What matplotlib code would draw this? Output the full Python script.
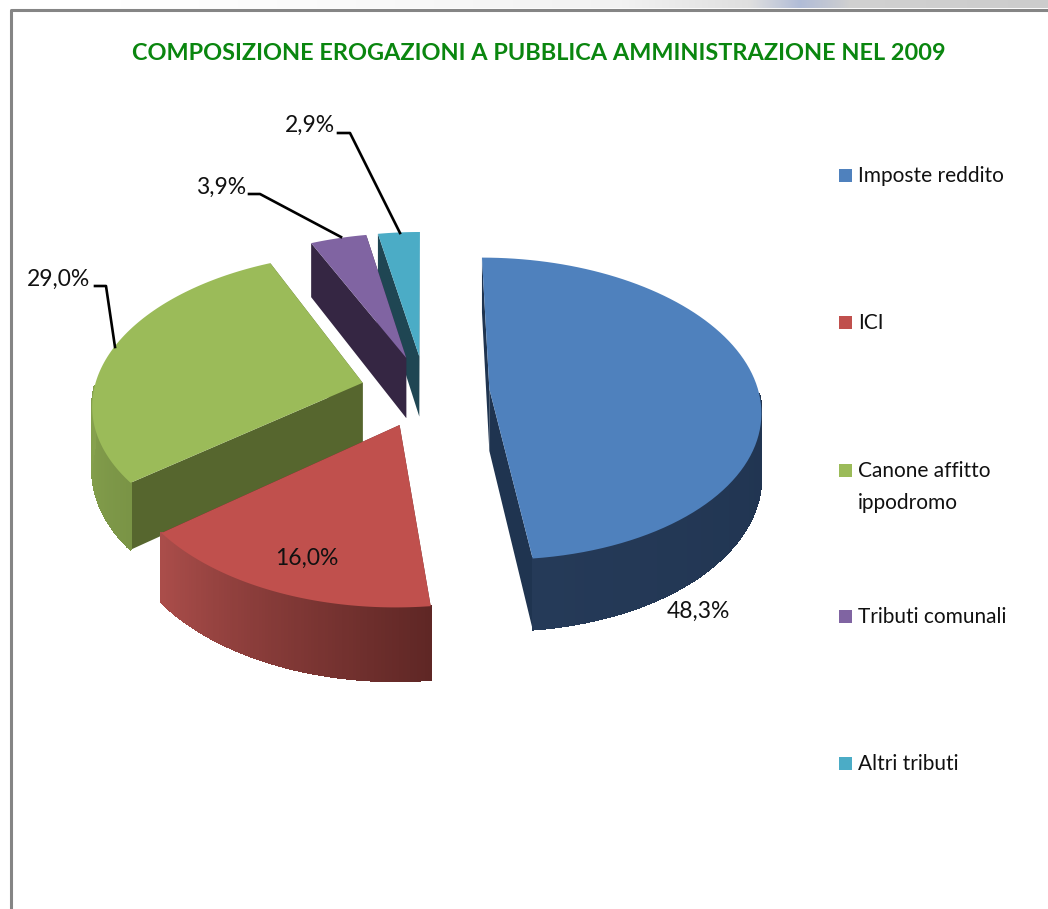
import numpy as np
import matplotlib
matplotlib.use('Agg')
import matplotlib.pyplot as plt
from matplotlib.colors import to_rgb

labels = ['Imposte reddito', 'ICI', 'Canone affitto\nippodromo', 'Tributi comunali', 'Altri tributi']
values = [48.3, 16.0, 29.0, 3.9, 2.9]
value_labels = ['48,3%', '16,0%', '29,0%', '3,9%', '2,9%']
top_colors = ['#4f81bd', '#c0504d', '#9bbb59', '#8064a2', '#4bacc6']
side_colors = ['#1f3450', '#632523', '#56662e', '#352643', '#1f4653']
wall_start = ['#1a2d47', '#5f2725', '#7a9446', '#352643', '#1f4653']
wall_end = ['#253a58', '#aa4d4a', '#9bb959', '#352643', '#1f4653']
title = 'COMPOSIZIONE EROGAZIONI A PUBBLICA AMMINISTRAZIONE NEL 2009'

# pixel layout of the fake 3d pie
cx, cy = 425, 391
rx, ry = 269, 149
persp = 0.13
depth = 62
explode = 0.24

label_pos = [(698, 611), (307, 558), (59, 279), (221, 187), (310, 125)]
leaders = {2: [(95, 286), (106, 286), (115, 347)],
           3: [(249, 194), (260, 194), (341, 237)],
           4: [(338, 133), (350, 133), (400, 233)]}
legend_y = [175, 322, 470, 616, 763]


def project(u, v, z=0.0):
    s = 1 / (1 + persp * v)
    return cx + rx * u * s, cy - ry * v * s + depth * z * s


def mix(c1, c2, t):
    a, b = np.array(to_rgb(c1)), np.array(to_rgb(c2))
    return tuple(a + (b - a) * t)


fig = plt.figure(figsize=(10.48, 9.09), dpi=100)
ax = fig.add_axes([0, 0, 1, 1])
ax.set_xlim(0, 1048)
ax.set_ylim(909, 0)
ax.axis('off')
plt.rcParams['font.family'] = ['Lato', 'DejaVu Sans']

# bit of blurred background above the frame
strip = np.ones((8, 1048, 3))
for x in range(1048):
    grey = np.interp(x, [0, 120, 620, 840, 1048], [1, 1, 0.95, 0.82, 0.8])
    blue = max(0, 1 - abs(x - 800) / 50) * 0.15
    strip[:, x] = [grey - blue, grey - blue * 0.7, grey]
ax.imshow(strip, extent=(0, 1048, 8, 0), aspect='auto', zorder=0)
ax.set_xlim(0, 1048)
ax.set_ylim(909, 0)
ax.plot([11, 11, 1048], [909, 9.5, 9.5], color='#858585', lw=2.2, zorder=1)

# slices go clockwise from the top
spans = np.array(values) / sum(values) * 360
ends = 90 - np.cumsum(spans)
starts = ends + spans
mids = (starts + ends) / 2
order = np.argsort(-np.sin(np.radians(mids)))

for i in order:
    ou = explode * np.cos(np.radians(mids[i]))
    ov = explode * np.sin(np.radians(mids[i]))
    th = np.radians(np.linspace(starts[i], ends[i], 90))
    us = ou + np.cos(th)
    vs = ov + np.sin(th)

    # radial walls first, only the arc that faces us gets drawn
    for u, v in [(us[0], vs[0]), (us[-1], vs[-1])]:
        quad = [project(ou, ov), project(u, v), project(u, v, 1), project(ou, ov, 1)]
        ax.fill(*zip(*quad), color=side_colors[i], lw=0, zorder=2)
    for k in range(len(th) - 1):
        if np.sin(th[k]) > -0.02 or np.sin(th[k + 1]) > -0.02:
            continue
        c = mix(wall_start[i], wall_end[i], k / (len(th) - 2))
        quad = [project(us[k], vs[k]), project(us[k + 1], vs[k + 1]),
                project(us[k + 1], vs[k + 1], 1), project(us[k], vs[k], 1)]
        ax.fill(*zip(*quad), color=c, lw=0.8, antialiased=False, zorder=2)

    top = [project(ou, ov)] + [project(u, v) for u, v in zip(us, vs)]
    ax.fill(*zip(*top), color=top_colors[i], lw=0, zorder=2)

for i, pts in leaders.items():
    ax.plot(*zip(*pts), color='black', lw=1.9, zorder=3)
for txt, (x, y) in zip(value_labels, label_pos):
    ax.text(x, y, txt, fontsize=16.5, color='#111111', ha='center', va='center', zorder=4)

for lab, c, y in zip(labels, top_colors, legend_y):
    ax.add_patch(plt.Rectangle((839, y - 6.5), 13, 13, color=c, lw=0, zorder=3))
    ax.text(858, y - 9, lab, fontsize=15, color='#111111', va='top', linespacing=1.75, zorder=4)

ax.text(539, 53, title, fontsize=16.9, fontweight='bold', color='#0a860f',
        ha='center', va='center', zorder=4)

plt.savefig('out.png', dpi=100)
